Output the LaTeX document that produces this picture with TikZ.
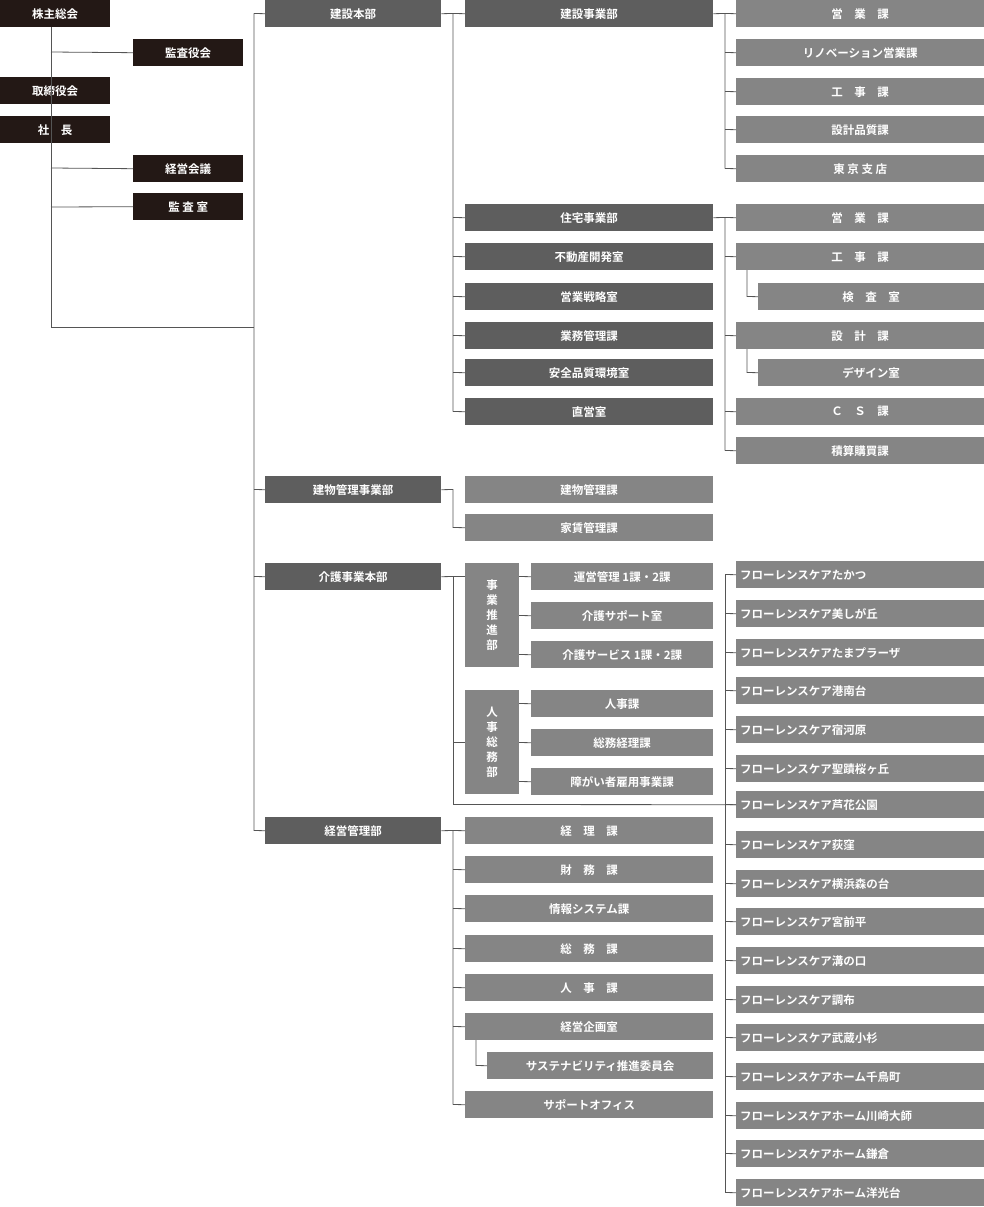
\documentclass[tikz,border=0pt]{standalone}
\usepackage{fontspec}
\setmainfont{Noto Sans CJK JP}[BoldFont={Noto Sans CJK JP Bold}]
\definecolor{cblk}{HTML}{231815}
\definecolor{cdk}{HTML}{5E5E5E}
\definecolor{clt}{HTML}{858585}
\definecolor{cln}{HTML}{555555}
\tikzset{
 bx/.style={inner sep=0pt,anchor=north west,text=white,font=\bfseries\fontsize{11.5}{12}\selectfont},
 lnk/.style={draw=cln,line width=0.8pt},
}
\newcommand{\bx}[7]{\node[bx,fill=#6,minimum width=#3pt,minimum height=#4pt] (#1) at (#2) {#5};}
\begin{document}
\begin{tikzpicture}[x=1pt,y=-1pt]
\useasboundingbox (0,0) rectangle (984,1207);
% left column
\node[bx,fill=cblk,minimum width=110pt,minimum height=27pt] (a1) at (0,0) {株主総会};
\node[bx,fill=cblk,minimum width=110pt,minimum height=27pt] (a2) at (133,39) {監査役会};
\node[bx,fill=cblk,minimum width=110pt,minimum height=27pt] (a3) at (0,77) {取締役会};
\node[bx,fill=cblk,minimum width=110pt,minimum height=27pt] (a4) at (0,116) {社\quad 長};
\node[bx,fill=cblk,minimum width=110pt,minimum height=27pt] (a5) at (133,155) {経営会議};
\node[bx,fill=cblk,minimum width=110pt,minimum height=27pt] (a6) at (133,193) {監\ 査\ 室};
\coordinate (p1) at (51,327);
\draw[lnk] (51,27) -- (p1) -- (254,327);
\draw[lnk] (51,52) -- (a2.west);
\draw[lnk] (51,168) -- (a5.west);
\draw[lnk] (51,207) -- (a6.west);
% level 2
\foreach \n/\y/\t in {b1/0/建設本部,b2/476/建物管理事業部,b3/563/介護事業本部,b4/817/経営管理部}
 {\node[bx,fill=cdk,minimum width=176pt,minimum height=27pt] (\n) at (265,\y) {\t};}
\draw[lnk] (254,13.5) -- (b1.west);
\draw[lnk] (254,13.5) -- (254,830.5) -- (b4.west);
\draw[lnk] (254,489.5) -- (b2.west);
\draw[lnk] (254,576.5) -- (b3.west);
% 建設本部 column 3
\foreach \n/\y/\t in {c1/0/建設事業部,c2/204/住宅事業部,c3/243/不動産開発室,c4/283/営業戦略室,c5/322/業務管理課,c6/359/安全品質環境室,c7/398/直営室}
 {\node[bx,fill=cdk,minimum width=248pt,minimum height=27pt] (\n) at (465,\y) {\t};
  \draw[lnk] (453,\y+13.5) -- (\n.west);}
\draw[lnk] (b1.east) -- (453,13.5) -- (453,411.5);
% 建設事業部 subs
\foreach \n/\y/\t in {d1/0/営\quad 業\quad 課,d2/39/リノベーション営業課,d3/78/工\quad 事\quad 課,d4/116/設計品質課,d5/155/東\ 京\ 支\ 店}
 {\node[bx,fill=clt,minimum width=248pt,minimum height=27pt] (\n) at (736,\y) {\t};
  \draw[lnk] (725,\y+13.5) -- (\n.west);}
\draw[lnk] (c1.east) -- (725,13.5) -- (725,168.5);
% 住宅事業部 subs
\foreach \n/\y/\t in {e1/204/営\quad 業\quad 課,e2/243/工\quad 事\quad 課,e4/322/設\quad 計\quad 課,e6/398/Ｃ\quad Ｓ\quad 課,e7/437/積算購買課}
 {\node[bx,fill=clt,minimum width=248pt,minimum height=27pt] (\n) at (736,\y) {\t};
  \draw[lnk] (725,\y+13.5) -- (\n.west);}
\node[bx,fill=clt,minimum width=226pt,minimum height=27pt] (e3) at (758,283) {検\quad 査\quad 室};
\node[bx,fill=clt,minimum width=226pt,minimum height=27pt] (e5) at (758,359) {デザイン室};
\draw[lnk] (c2.east) -- (725,217.5) -- (725,450.5);
\draw[lnk] (747,270) -- (747,296.5) -- (e3.west);
\draw[lnk] (747,349) -- (747,372.5) -- (e5.west);
% 建物管理事業部
\node[bx,fill=clt,minimum width=248pt,minimum height=27pt] (f1) at (465,476) {建物管理課};
\node[bx,fill=clt,minimum width=248pt,minimum height=27pt] (f2) at (465,514) {家賃管理課};
\draw[lnk] (b2.east) -- (453,489.5) -- (453,527.5) -- (f2.west);
% 介護事業本部
\node[bx,fill=clt,minimum width=54pt,minimum height=104pt,align=center,font=\bfseries\fontsize{11.5}{15}\selectfont] (g1) at (465,563) {事\\業\\推\\進\\部};
\node[bx,fill=clt,minimum width=54pt,minimum height=104pt,align=center,font=\bfseries\fontsize{11.5}{15}\selectfont] (g2) at (465,690) {人\\事\\総\\務\\部};
\draw[lnk] (b3.east) -- (453,576.5) -- (465,576.5);
\draw[lnk] (453,576.5) -- (453,804.5);
\draw[lnk] (453,742.5) -- (465,742.5);
\foreach \n/\y/\t in {h1/563/運営管理\ 1課・2課,h2/602/介護サポート室,h3/641/介護サービス\ 1課・2課,h4/690/人事課,h5/729/総務経理課,h6/768/障がい者雇用事業課}
 {\node[bx,fill=clt,minimum width=182pt,minimum height=27pt] (\n) at (531,\y) {\t};
  \draw[lnk] (519,\y+13.5) -- (\n.west);}
% Florence
\foreach \n/\y/\t in {k1/561/たかつ,k2/600/美しが丘,k3/639/たまプラーザ,k4/677/港南台,k5/716/宿河原,k6/755/聖蹟桜ヶ丘,k7/791/芦花公園,k8/831/荻窪,k9/870/横浜森の台,k10/908/宮前平,k11/947/溝の口,k12/986/調布,k13/1024/武蔵小杉,k14/1063/ホーム千鳥町,k15/1102/ホーム川崎大師,k16/1140/ホーム鎌倉,k17/1179/ホーム洋光台}
 {\node[bx,fill=clt,minimum width=248pt,minimum height=27pt,text width=240pt,align=left] (\n) at (736,\y) {フローレンスケア\t};
  \draw[lnk] (725,\y+13.5) -- (\n.west);}
\draw[lnk] (725,574.5) -- (725,1192.5);
\draw[lnk] (453,804.5) -- (k7.west);
% 経営管理部
\foreach \n/\y/\t in {m1/817/経\quad 理\quad 課,m2/856/財\quad 務\quad 課,m3/895/情報システム課,m4/935/総\quad 務\quad 課,m5/974/人\quad 事\quad 課,m6/1013/経営企画室,m8/1091/サポートオフィス}
 {\node[bx,fill=clt,minimum width=248pt,minimum height=27pt] (\n) at (465,\y) {\t};
  \draw[lnk] (453,\y+13.5) -- (\n.west);}
\node[bx,fill=clt,minimum width=226pt,minimum height=27pt] (m7) at (487,1052) {サステナビリティ推進委員会};
\draw[lnk] (476,1040) -- (476,1065.5) -- (m7.west);
\draw[lnk] (b4.east) -- (453,830.5) -- (453,1104.5);
\end{tikzpicture}
\end{document}
